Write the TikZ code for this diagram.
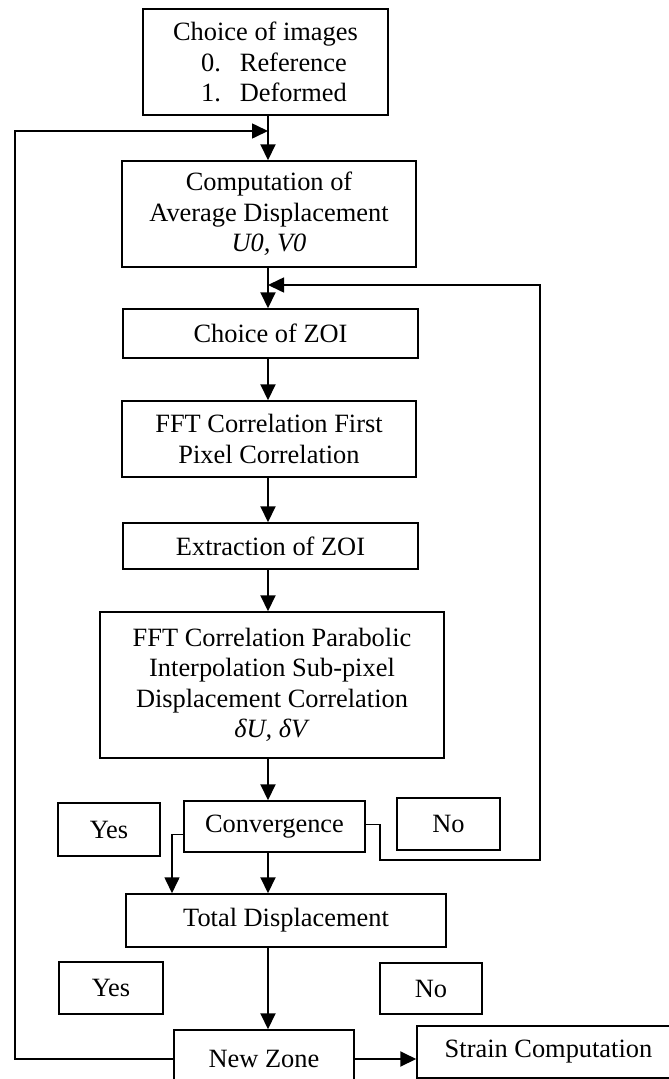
\documentclass[tikz,border=0pt]{standalone}
\usepackage{fontspec}
\setmainfont{Liberation Serif}
\usetikzlibrary{arrows.meta}

\begin{document}
\begin{tikzpicture}[line join=miter, x=1pt, y=-1pt, >={Triangle[length=16pt,width=15pt]}]
	\tikzset{every node/.style={font=\fontsize{26.4}{30.5}\selectfont, inner sep=0pt},
		box/.style={draw, line width=1.5pt, rectangle, align=center},
		arr/.style={->, line width=2pt},
		loopline/.style={->, line width=1.6pt}}
	\useasboundingbox (0,0) rectangle (669,1079);
	\clip (0,0) rectangle (669,1079);
	% main column
	\node[box, minimum width=245pt, minimum height=106pt] (imgs) at (265.5,62) {Choice of images\\\hspace*{17pt}0.\hspace{19pt}Reference\\\hspace*{17pt}1.\hspace{19pt}Deformed};
	\node[box, minimum width=294pt, minimum height=106pt] (avg) at (269,214) {Computation of\\Average Displacement\\\textit{U0, V0}};
	\node[box, minimum width=295pt, minimum height=49pt] (zoi) at (270.5,333.5) {Choice of ZOI};
	\node[box, minimum width=294pt, minimum height=76pt] (fft1) at (269,439) {FFT Correlation First\\Pixel Correlation};
	\node[box, minimum width=295pt, minimum height=46pt] (ext) at (270.5,546) {Extraction of ZOI};
	\node[box, minimum width=344pt, minimum height=146pt] (fft2) at (272,685) {FFT Correlation Parabolic\\Interpolation Sub-pixel\\Displacement Correlation\\\textit{δU, δV}};
	\node[box, minimum width=181pt, minimum height=51pt] (conv) at (274.5,826.5) {Convergence};
	\node[box, minimum width=102pt, minimum height=53pt] (yes1) at (109,829.5) {Yes};
	\node[box, minimum width=103pt, minimum height=52pt] (no1) at (448.5,824) {No};
	\node[box, minimum width=320pt, minimum height=53pt] (total) at (286,920.5) {Total Displacement};
	\node[box, minimum width=104pt, minimum height=52pt] (yes2) at (111,988) {Yes};
	\node[box, minimum width=102pt, minimum height=51pt] (no2) at (431,988.5) {No};
	\node[box, minimum width=180pt, minimum height=58pt] (newz) at (264,1059) {New Zone};
	\node[box, minimum width=263pt, minimum height=52pt] (strain) at (548.5,1052) {Strain Computation};
	% bend points
	\coordinate (axis) at (268,0);
	\coordinate (fb1) at (268,131);
	\coordinate (fb2) at (268,285);
	\coordinate (lft) at (15,0);
	\coordinate (yesx) at (172,0);
	\coordinate (nobend) at (380,860);
	\coordinate (rgt) at (540,860);
	% arrows down
	\draw[arr] (imgs.south -| axis) -- (avg.north -| axis);
	\draw[arr] (avg.south -| axis) -- (zoi.north -| axis);
	\draw[arr] (zoi.south -| axis) -- (fft1.north -| axis);
	\draw[arr] (fft1.south -| axis) -- (ext.north -| axis);
	\draw[arr] (ext.south -| axis) -- (fft2.north -| axis);
	\draw[arr] (fft2.south -| axis) -- (conv.north -| axis);
	\draw[arr] (conv.south -| axis) -- (total.north -| axis);
	\draw[arr] (total.south -| axis) -- (newz.north -| axis);
	\draw[arr] (newz.east) -- (newz.east -| strain.west);
	% loops back
	\draw[loopline] (newz.west) -- (newz.west -| lft) |- (fb1);
	\draw[loopline] ([yshift=2pt]conv.east) -| (nobend) -- (rgt) |- (fb2);
	\draw[loopline] ([yshift=-8pt]conv.west) -| (yesx |- total.north);
\end{tikzpicture}
\end{document}
